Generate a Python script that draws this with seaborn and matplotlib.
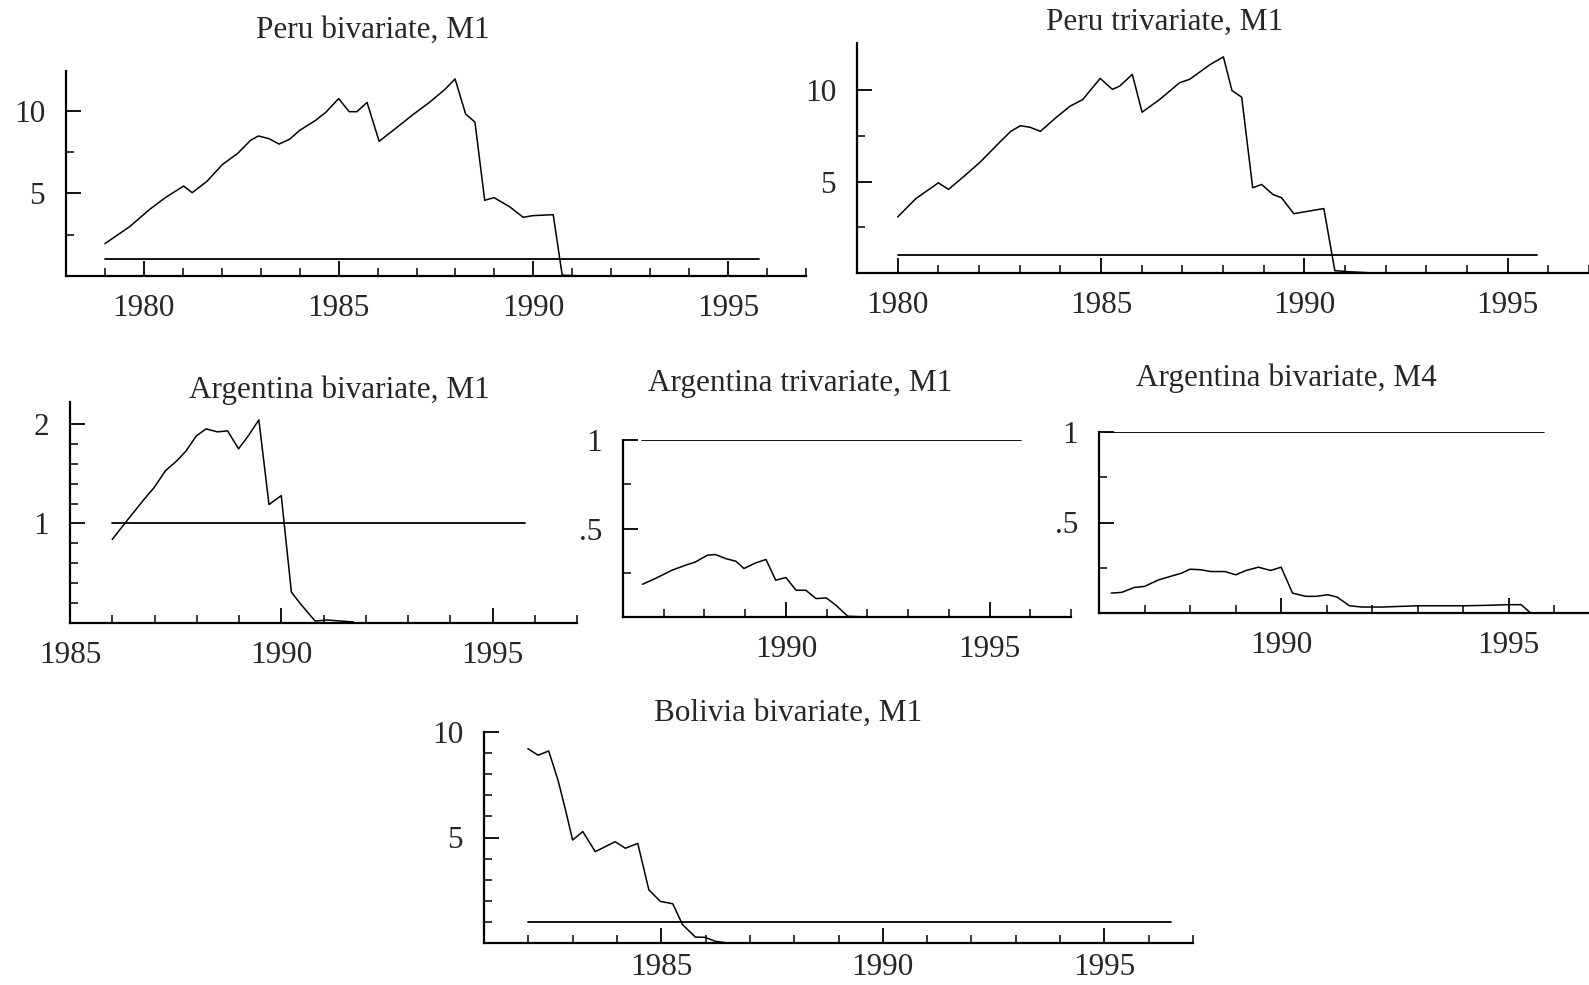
import matplotlib
matplotlib.use("Agg")
import matplotlib.pyplot as plt
import seaborn as sns
import pandas as pd

# Peru bivariate, M1
peru_bi_year = [1979.0, 1979.62, 1980.16, 1980.55, 1981.02, 1981.24, 1981.62, 1982.01, 1982.41,
                1982.74, 1982.94, 1983.21, 1983.47, 1983.74, 1984.0, 1984.4, 1984.67, 1985.0,
                1985.27, 1985.47, 1985.73, 1986.04, 1986.4, 1986.93, 1987.33, 1987.73, 1987.99,
                1988.26, 1988.5, 1988.75, 1988.99, 1989.39, 1989.74, 1989.98, 1990.51, 1990.74,
                1991.24]
peru_bi_val = [1.96, 2.96, 4.05, 4.74, 5.44, 5.04, 5.73, 6.73, 7.42, 8.21, 8.47, 8.31, 7.98, 8.27,
               8.81, 9.40, 9.90, 10.73, 9.94, 9.94, 10.50, 8.15, 8.81, 9.80, 10.50, 11.29, 11.92,
               9.80, 9.31, 4.58, 4.74, 4.19, 3.55, 3.65, 3.71, 0.05, 0.0]
peru_bi_crit = [1979.0, 1995.8]

# Peru trivariate, M1
peru_tri_year = [1980.0, 1980.45, 1981.0, 1981.25, 1981.67, 1982.04, 1982.53, 1982.78, 1983.02,
                 1983.26, 1983.51, 1983.88, 1984.24, 1984.55, 1984.98, 1985.28, 1985.46, 1985.77,
                 1986.01, 1986.44, 1986.93, 1987.18, 1987.67, 1988.01, 1988.22, 1988.46, 1988.73,
                 1988.95, 1989.23, 1989.44, 1989.74, 1990.48, 1990.75, 1991.09, 1991.7]
peru_tri_val = [3.07, 4.08, 4.94, 4.58, 5.37, 6.10, 7.21, 7.76, 8.07, 7.98, 7.76, 8.49, 9.14, 9.50,
                10.66, 10.06, 10.24, 10.88, 8.81, 9.50, 10.42, 10.61, 11.40, 11.84, 10.0, 9.63,
                4.67, 4.85, 4.30, 4.12, 3.25, 3.53, 0.13, 0.07, 0.0]
peru_tri_crit = [1980.0, 1995.73]

# Argentina bivariate, M1
arg_bi_year = [1986.0, 1986.37, 1986.73, 1986.99, 1987.26, 1987.53, 1987.75, 1987.99, 1988.22,
               1988.49, 1988.73, 1988.99, 1989.22, 1989.47, 1989.71, 1990.0, 1990.24, 1990.46,
               1990.8, 1991.09, 1991.71]
arg_bi_val = [0.84, 1.04, 1.23, 1.36, 1.53, 1.63, 1.73, 1.88, 1.95, 1.92, 1.93, 1.75, 1.88, 2.04,
              1.19, 1.28, 0.31, 0.19, 0.02, 0.03, 0.01]
arg_bi_crit = [1986.0, 1995.76]

# Argentina trivariate, M1
arg_tri_year = [1986.48, 1986.79, 1987.2, 1987.53, 1987.78, 1988.07, 1988.27, 1988.52, 1988.77,
                1988.97, 1989.26, 1989.51, 1989.75, 1990.0, 1990.25, 1990.49, 1990.74, 1990.99,
                1991.23, 1991.52, 1992.06, 1995.75]
arg_tri_val = [0.185, 0.217, 0.264, 0.292, 0.311, 0.349, 0.353, 0.330, 0.315, 0.274, 0.306, 0.325,
               0.208, 0.223, 0.151, 0.151, 0.104, 0.108, 0.066, 0.004, 0.0, 0.0]
arg_tri_crit = [1986.46, 1995.78]

# Argentina bivariate, M4
arg_m4_year = [1986.27, 1986.5, 1986.77, 1987.0, 1987.31, 1987.62, 1987.81, 1988.0, 1988.23,
               1988.46, 1988.77, 1989.0, 1989.23, 1989.5, 1989.77, 1990.0, 1990.25, 1990.54,
               1990.77, 1991.02, 1991.23, 1991.5, 1991.77, 1992.23, 1993.0, 1994.02, 1994.46,
               1995.0, 1995.27, 1995.46]
arg_m4_val = [0.110, 0.114, 0.141, 0.147, 0.183, 0.206, 0.220, 0.242, 0.239, 0.229, 0.229, 0.211,
              0.235, 0.253, 0.235, 0.253, 0.110, 0.092, 0.092, 0.101, 0.088, 0.040, 0.033, 0.033,
              0.040, 0.040, 0.042, 0.046, 0.046, 0.004]
arg_m4_crit = [1986.15, 1995.77]

# Bolivia bivariate, M1
bol_bi_year = [1981.99, 1982.22, 1982.46, 1982.67, 1982.84, 1983.0, 1983.23, 1983.51, 1983.96,
               1984.19, 1984.47, 1984.72, 1984.98, 1985.26, 1985.48, 1985.77, 1985.99, 1986.22,
               1986.5]
bol_bi_val = [9.21, 8.90, 9.10, 7.72, 6.30, 4.88, 5.28, 4.33, 4.80, 4.49, 4.72, 2.52, 1.97, 1.86,
              0.87, 0.28, 0.27, 0.08, 0.0]
bol_bi_crit = [1982.0, 1996.51]

sns.set_style("ticks")
plt.rcParams["font.family"] = ["Liberation Serif", "DejaVu Serif"]
plt.rcParams["font.size"] = 22

W, H = 1589, 985
fig = plt.figure(figsize=(W / 100, H / 100), dpi=100)


def make_ax(left, top, right, bottom):
    return fig.add_axes([left / W, 1 - bottom / H, (right - left) / W, (bottom - top) / H])


panels = [
    # title, years, values, crit, axes box (px), xlim, ylim, yticks, ylabels, yminor, title pos, x pad
    ("Peru bivariate, M1", peru_bi_year, peru_bi_val, peru_bi_crit, (66, 71, 806, 276),
     (1978, 1997), (0, 12.4), [5, 10], ["5", "10"], [2.5, 7.5], (373, 30), 13),
    ("Peru trivariate, M1", peru_tri_year, peru_tri_val, peru_tri_crit, (857, 43, 1589, 273),
     (1979, 1997), (0, 12.6), [5, 10], ["5", "10"], [2.5, 7.5], (1165, 22), 13),
    ("Argentina bivariate, M1", arg_bi_year, arg_bi_val, arg_bi_crit, (70, 402, 577, 623),
     (1985, 1997), (0, 2.22), [1, 2], ["1", "2"], [0.2, 0.4, 0.6, 0.8, 1.2, 1.4, 1.6, 1.8], (339, 390), 13),
    ("Argentina trivariate, M1", arg_tri_year, arg_tri_val, arg_tri_crit, (623, 440, 1071, 617),
     (1986, 1997), (0, 1), [0.5, 1], [".5", "1"], [0.25, 0.75], (800, 384), 13),
    ("Argentina bivariate, M4", arg_m4_year, arg_m4_val, arg_m4_crit, (1099, 432, 1589, 613),
     (1986, 1996.76), (0, 1), [0.5, 1], [".5", "1"], [0.25, 0.75], (1286, 378), 13),
    ("Bolivia bivariate, M1", bol_bi_year, bol_bi_val, bol_bi_crit, (484, 732, 1193, 943),
     (1981, 1997), (0, 10), [5, 10], ["5", "10"], [1, 2, 3, 4, 6, 7, 8, 9], (788, 713), 7),
]

for title, yrs, vals, crit, box, xlim, ylim, yt, ylab, ymin, tpos, xpad in panels:
    ax = make_ax(*box)
    df = pd.DataFrame({"year": yrs, "stat": vals})
    sns.lineplot(data=df, x="year", y="stat", color="black", lw=1.1, ax=ax)
    cdf = pd.DataFrame({"year": crit, "stat": [1.0, 1.0]})
    sns.lineplot(data=cdf, x="year", y="stat", color="black", lw=1.3, ax=ax)
    ax.set_xlim(*xlim)
    ax.set_ylim(*ylim)
    major = [y for y in (1980, 1985, 1990, 1995) if xlim[0] <= y <= xlim[1]]
    minor = [y for y in range(int(xlim[0]) + 1, int(xlim[1]) + 1) if y not in major]
    ax.set_xticks(major)
    ax.set_xticklabels([str(y) for y in major])
    ax.set_xticks(minor, minor=True)
    ax.set_yticks(yt)
    ax.set_yticklabels(ylab)
    ax.set_yticks(ymin, minor=True)
    ax.set_xlabel("")
    ax.set_ylabel("")
    sns.despine(ax=ax)
    for s in ("left", "bottom"):
        ax.spines[s].set_linewidth(1.6)
        ax.spines[s].set_color("black")
    ax.tick_params(axis="both", which="major", direction="in", length=11, width=1.3,
                   color="black", labelsize=22.5)
    ax.tick_params(axis="both", which="minor", direction="in", length=6, width=1.1, color="black")
    ax.tick_params(axis="x", which="major", pad=xpad)
    ax.tick_params(axis="y", which="major", pad=15)
    ax.patch.set_alpha(0)
    fig.text(tpos[0] / W, 1 - tpos[1] / H, title, ha="center", va="center", fontsize=22.5)

fig.savefig("out.png", dpi=100, facecolor="white")
